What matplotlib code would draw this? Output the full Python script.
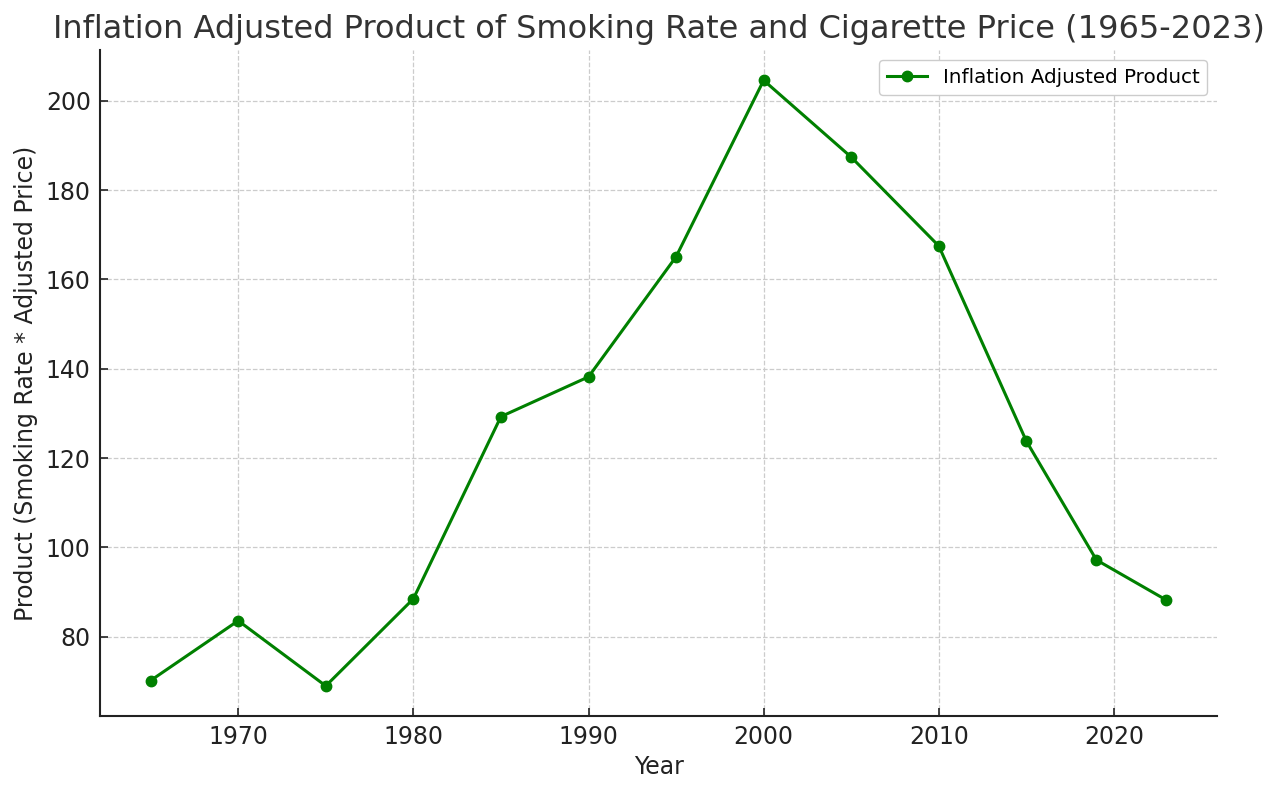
import matplotlib
matplotlib.use('Agg')
import matplotlib.pyplot as plt

years = [1965, 1970, 1975, 1980, 1985, 1990, 1995, 2000, 2005, 2010, 2015, 2019, 2023]
product = [70.2, 83.6, 69.0, 88.5, 129.3, 138.2, 165.1, 204.6, 187.4, 167.5, 123.8, 97.2, 88.2]

fig, ax = plt.subplots(figsize=(12.8, 7.94), dpi=100)
ax.plot(years, product, marker='o', color='green', linewidth=2.2, markersize=7.5,
        label='Inflation Adjusted Product')

ax.set_title('Inflation Adjusted Product of Smoking Rate and Cigarette Price (1965-2023)',
             fontsize=23, color='#333333', pad=9)
ax.set_xlabel('Year', fontsize=17, color='#222222')
ax.set_ylabel('Product (Smoking Rate * Adjusted Price)', fontsize=17, color='#222222',
              labelpad=5.5)
ax.tick_params(direction='in', labelsize=17, length=6, width=1.2, colors='#222222', pad=6.5)
ax.grid(True, linestyle='--', color='#cccccc', linewidth=0.9)
ax.spines['top'].set_visible(False)
ax.spines['right'].set_visible(False)
for s in ['left', 'bottom']:
    ax.spines[s].set_linewidth(1.5)
    ax.spines[s].set_color('#222222')
ax.legend(loc='upper right', fontsize=14.3, framealpha=1, edgecolor='#cccccc')

plt.subplots_adjust(left=0.078, right=0.951, top=0.937, bottom=0.098)
plt.savefig('out.png', dpi=100)
